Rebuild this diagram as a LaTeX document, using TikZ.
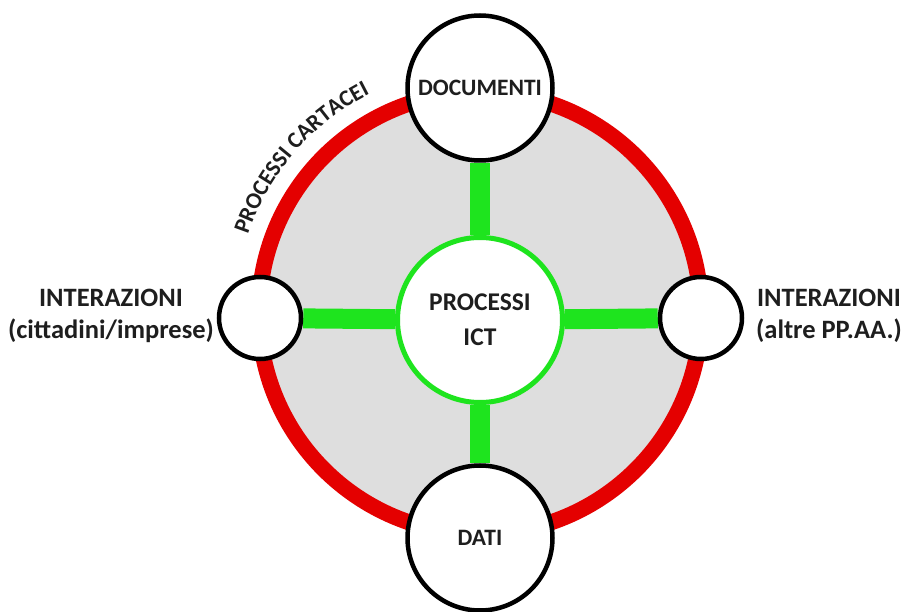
\documentclass[tikz,border=0pt]{standalone}
\usepackage{fontspec}
\setmainfont{Carlito}
\usetikzlibrary{backgrounds,decorations.text}
\definecolor{ringred}{RGB}{228,0,0}
\definecolor{ictgreen}{RGB}{30,228,30}
\definecolor{diskgray}{RGB}{222,222,222}
\definecolor{txt}{RGB}{30,30,30}
\tikzset{
  bigbub/.style={circle, draw=black, line width=4.5pt, fill=white, minimum size=145pt,
    inner sep=0pt, font=\fontsize{23.5}{26}\selectfont\bfseries, text=txt},
  smallbub/.style={circle, draw=black, line width=4.5pt, fill=white, minimum size=82pt, inner sep=0pt},
  ictbub/.style={circle, draw=ictgreen, line width=5pt, fill=white, minimum size=165pt,
    inner sep=0pt, align=center, font=\fontsize{25.5}{35}\selectfont\bfseries, text=txt},
  sidelabel/.style={align=center, font=\fontsize{26.5}{32}\selectfont\bfseries, text=txt, inner sep=0pt},
  bar/.style={ictgreen, line width=20pt},
  ring/.style={ringred, line width=16pt}
}
\begin{document}
\begin{tikzpicture}[x=1pt,y=1pt]
  \useasboundingbox (0,0) rectangle (903,611);
  \coordinate (c) at (480,298);
  % outer bubbles and central ICT bubble
  \node[bigbub] (doc) at (480,523) {DOCUMENTI};
  \node[bigbub] (dati) at (480,73) {DATI};
  \node[smallbub] (citt) at (260,293) {};
  \node[smallbub] (pa) at (701,293) {};
  \node[ictbub] (ict) at (480,291) {PROCESSI\\ICT};
  % side labels
  \node[sidelabel] (lcitt) at (111,295) {INTERAZIONI\\(cittadini/imprese)};
  \node[sidelabel] (lpa) at (829,295) {INTERAZIONI\\(altre PP.AA.)};
  \begin{scope}[on background layer]
    \fill[white] (0,0) rectangle (903,611);
    \fill[diskgray] (c) circle[radius=221pt];
    \draw[ring] (c) circle[radius=221pt];
    \draw[bar] (doc) -- (ict);
    \draw[bar] (dati) -- (ict);
    \draw[bar] (citt) -- (ict);
    \draw[bar] (pa) -- (ict);
  \end{scope}
  % curved caption above the paper-process ring
  \path[decorate, decoration={text along path, text align=center,
      text={|\fontsize{23}{23}\selectfont\bfseries\color{txt}|PROCESSI CARTACEI}}]
    (c) ++(168:245pt) arc[start angle=168, end angle=110, radius=245pt];
\end{tikzpicture}
\end{document}
